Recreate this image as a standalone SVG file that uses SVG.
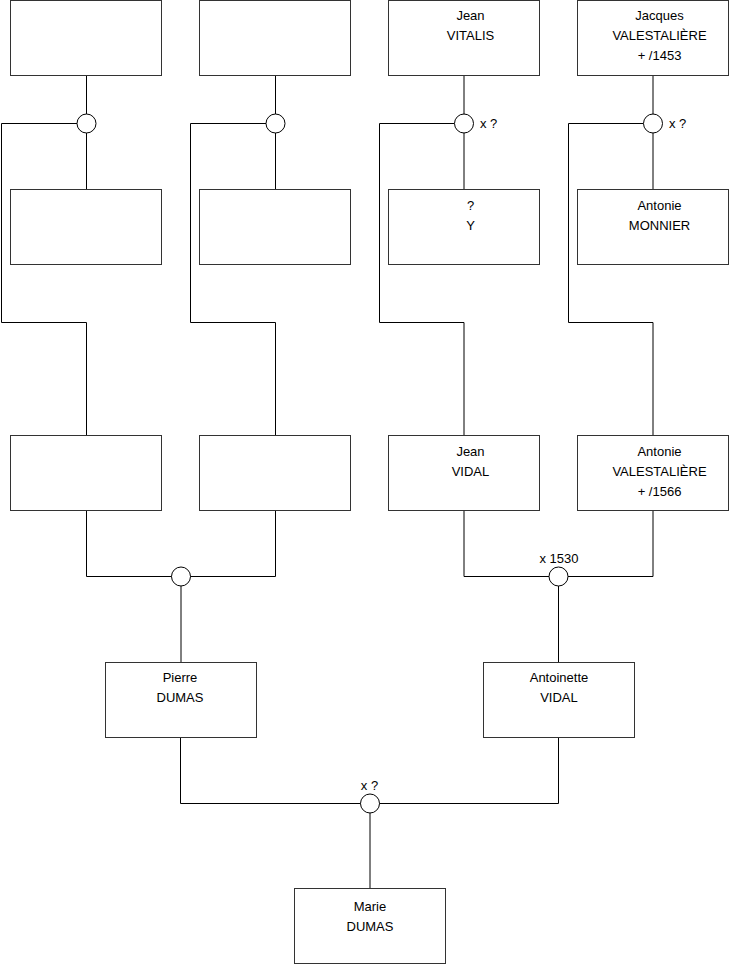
<svg xmlns="http://www.w3.org/2000/svg" width="740" height="975" viewBox="0 0 740 975">
<style>
.box{fill:#fff;stroke:#333;stroke-width:1}
.ring{fill:#fff;stroke:#000;stroke-width:1}
.wire{fill:none;stroke:#000;stroke-width:1}
text{font-family:"Liberation Sans",Arial,sans-serif;font-size:13px;fill:#000}
.c{text-anchor:middle}
</style>
<rect width="740" height="975" fill="#fff"/>
<g id="connectors">
<path class="wire" d="M86.5 76V190M77 123.5H1.5V322.5H86.5V435"/>
<path class="wire" d="M275.5 76V190M266 123.5H190.5V322.5H275.5V435"/>
<path class="wire" d="M464 76V190M454.5 123.5H379.5V322.5H464V435"/>
<path class="wire" d="M653 76V190M643.5 123.5H568.5V322.5H653V435"/>
<path class="wire" d="M86.5 510V576.5H275.5V510M181 576.5V662"/>
<path class="wire" d="M464 510V576.5H653V510M558.5 576.5V662"/>
<path class="wire" d="M180.5 737V803.5H558.5V737M370 803.5V888"/>
</g>
<g id="u1"><circle class="ring" cx="86.5" cy="123.5" r="9.5"/></g>
<g id="u2"><circle class="ring" cx="275.5" cy="123.5" r="9.5"/></g>
<g id="u3"><circle class="ring" cx="464" cy="123.5" r="9.5"/><text x="480" y="128">x ?</text></g>
<g id="u4"><circle class="ring" cx="653" cy="123.5" r="9.5"/><text x="669" y="128">x ?</text></g>
<g id="u5"><circle class="ring" cx="181" cy="576.5" r="9.5"/></g>
<g id="u6"><circle class="ring" cx="558.5" cy="576.5" r="9.5"/><text class="c" x="559" y="562.5">x 1530</text></g>
<g id="u7"><circle class="ring" cx="370" cy="803.5" r="9.5"/><text class="c" x="369.5" y="790">x ?</text></g>
<g id="n1"><rect class="box" x="10.5" y="0.5" width="151" height="75"/></g>
<g id="n2"><rect class="box" x="199.5" y="0.5" width="151" height="75"/></g>
<g id="n3"><rect class="box" x="388.5" y="0.5" width="151" height="75"/><text class="c" x="470.5" y="20">Jean</text><text class="c" x="470.5" y="40">VITALIS</text></g>
<g id="n4"><rect class="box" x="577.5" y="0.5" width="151" height="75"/><text class="c" x="659.5" y="20">Jacques</text><text class="c" x="659.5" y="40">VALESTALIÈRE</text><text class="c" x="659.5" y="60">+ /1453</text></g>
<g id="n5"><rect class="box" x="10.5" y="189.5" width="151" height="75"/></g>
<g id="n6"><rect class="box" x="199.5" y="189.5" width="151" height="75"/></g>
<g id="n7"><rect class="box" x="388.5" y="189.5" width="151" height="75"/><text class="c" x="470.5" y="210">?</text><text class="c" x="470.5" y="230">Y</text></g>
<g id="n8"><rect class="box" x="577.5" y="189.5" width="151" height="75"/><text class="c" x="659.5" y="210">Antonie</text><text class="c" x="659.5" y="230">MONNIER</text></g>
<g id="n9"><rect class="box" x="10.5" y="435.5" width="151" height="75"/></g>
<g id="n10"><rect class="box" x="199.5" y="435.5" width="151" height="75"/></g>
<g id="n11"><rect class="box" x="388.5" y="435.5" width="151" height="75"/><text class="c" x="470.5" y="455.5">Jean</text><text class="c" x="470.5" y="475.5">VIDAL</text></g>
<g id="n12"><rect class="box" x="577.5" y="435.5" width="151" height="75"/><text class="c" x="659.5" y="455.5">Antonie</text><text class="c" x="659.5" y="475.5">VALESTALIÈRE</text><text class="c" x="659.5" y="495.5">+ /1566</text></g>
<g id="n13"><rect class="box" x="105.5" y="662.5" width="151" height="75"/><text class="c" x="180" y="682">Pierre</text><text class="c" x="180" y="702">DUMAS</text></g>
<g id="n14"><rect class="box" x="483.5" y="662.5" width="151" height="75"/><text class="c" x="559" y="682">Antoinette</text><text class="c" x="559" y="702">VIDAL</text></g>
<g id="n15"><rect class="box" x="294.5" y="888.5" width="151" height="75"/><text class="c" x="370" y="910.5">Marie</text><text class="c" x="370" y="930.5">DUMAS</text></g>
</svg>
